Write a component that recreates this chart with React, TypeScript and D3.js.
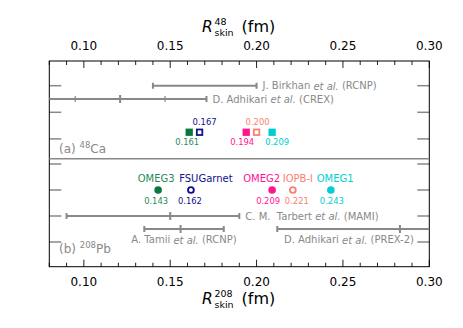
import React from "react";
import * as d3 from "d3";

// model predictions
const models = ["OMEG3", "FSUGarnet", "OMEG2", "IOPB-I", "OMEG1"];
const caSkin = [0.161, 0.167, 0.194, 0.2, 0.209];
const pbSkin = [0.143, 0.162, 0.209, 0.221, 0.243];

// experiments
const caExpNames = ["J. Birkhan", "D. Adhikari"];
const caExpTags = ["(RCNP)", "(CREX)"];
const caExpLo = [0.14, 0.071];
const caExpCenter = [null, 0.121];
const caExpHi = [0.2, 0.171];
const caExpInner = [null, [0.095, 0.147]];

const pbExpNames = ["C. M.\u00a0 Tarbert", "A. Tamii", "D. Adhikari"];
const pbExpTags = ["(MAMI)", "(RCNP)", "(PREX-2)"];
const pbExpLo = [0.09, 0.135, 0.212];
const pbExpCenter = [0.15, 0.156, 0.283];
const pbExpHi = [0.19, 0.181, 0.354];

const xTicks = [0.1, 0.15, 0.2, 0.25, 0.3];

// styling
const colors = ["#08783e", "#10108a", "#ff1493", "#fa8072", "#00ced1"];
const textColors = ["#2a8a55", "#10108a", "#ff1493", "#fa8072", "#00ced1"];
const filled = [true, false, true, false, true];
const nameDx = [-2, 15, -10.5, 5, 4.3];
const pbValDx = [-2, -1, -4, 4, 1];
const caValDx = [-2, 5, -4, 1, 5];
const font = "DejaVu Sans, sans-serif";
const gray = "#888";

const W = 463, H = 328;
const L = 49.3, R = 429.3, T = 61, M = 158.7, B = 266.7;

export default function App() {
  const x = d3.scaleLinear().domain([0.08, 0.3]).range([L, R]);
  const yCa = d3.scaleLinear().domain([0, 1]).range([85.7, 112.3]);
  const yPb = d3.scaleLinear().domain([0, 1]).range([164, 190]);
  const minor = d3.range(0.08, 0.3001, 0.01).map(v => +v.toFixed(2));
  const isMajor = (v: number) => Math.abs(v / 0.05 - Math.round(v / 0.05)) < 1e-6;

  const label = (pre: string, tag: string, px: number, py: number, anchor = "start") => (
    <text x={px} y={py} fontSize={10} fill={gray} textAnchor={anchor} dominantBaseline="central">
      {pre} <tspan fontStyle="italic">et al.</tspan> {tag}
    </text>
  );

  const bar = (lo: number, hi: number, y: number, center: number | null, key: string, inner?: number[] | null) => (
    <g key={key} stroke={gray} strokeWidth={2} clipPath="url(#plot)">
      <line x1={x(lo)} x2={x(hi)} y1={y} y2={y} />
      <line x1={x(lo)} x2={x(lo)} y1={y - 3} y2={y + 3} />
      <line x1={x(hi)} x2={x(hi)} y1={y - 3} y2={y + 3} />
      {center != null && <line x1={x(center)} x2={x(center)} y1={y - 4} y2={y + 4} />}
      {inner && inner.map((v, i) => <line key={i} x1={x(v)} x2={x(v)} y1={y - 3} y2={y + 3} strokeWidth={1.2} />)}
    </g>
  );

  const title = (sup: string, py: number) => (
    <g fill="#000">
      <text x={202} y={py} fontSize={15.5} fontStyle="italic">R</text>
      <text x={214.5} y={py - 7.5} fontSize={9.5}>{sup}</text>
      <text x={214.5} y={py + 3.5} fontSize={9.5}>skin</text>
      <text x={241.5} y={py} fontSize={16}>(fm)</text>
    </g>
  );

  return (
    <svg width={W} height={H} style={{ position: "absolute", left: 0, top: 0, background: "#fff" }} fontFamily={font}>
      <defs>
        <clipPath id="plot"><rect x={L} y={T} width={R - L} height={B - T} /></clipPath>
      </defs>

      {/* x ticks, top and bottom */}
      {minor.map(v => (
        <g key={v} stroke="#222" strokeWidth={1}>
          <line x1={x(v)} x2={x(v)} y1={T} y2={T + (isMajor(v) ? 7 : 4)} />
          <line x1={x(v)} x2={x(v)} y1={B} y2={B - (isMajor(v) ? 7 : 4)} />
        </g>
      ))}
      {xTicks.map(v => (
        <g key={v} fontSize={12} fill="#000" textAnchor="middle">
          <text x={x(v)} y={50}>{v.toFixed(2)}</text>
          <text x={x(v)} y={285.5}>{v.toFixed(2)}</text>
        </g>
      ))}

      {/* y ticks */}
      {[0, 1, 2].map(r => (
        <g key={"ca" + r} stroke={gray} strokeWidth={1.5}>
          <line x1={L} x2={L + 12} y1={yCa(r)} y2={yCa(r)} />
          <line x1={R} x2={R - 12} y1={yCa(r)} y2={yCa(r)} />
        </g>
      ))}
      {[0, 1, 2, 3].map(r => (
        <g key={"pb" + r} stroke={gray} strokeWidth={1.5}>
          <line x1={L} x2={L + 12} y1={yPb(r)} y2={yPb(r)} />
          <line x1={R} x2={R - 12} y1={yPb(r)} y2={yPb(r)} />
        </g>
      ))}

      {/* frame */}
      <rect x={L} y={T} width={R - L} height={B - T} fill="none" stroke="#000" strokeWidth={1} />
      <line x1={L} x2={R} y1={M} y2={M} stroke={gray} strokeWidth={1.6} />

      {/* 48Ca experiments */}
      {caExpNames.map((n, i) => bar(caExpLo[i], caExpHi[i], yCa(i * 0.5), caExpCenter[i], "ca" + i, caExpInner[i] as number[] | null))}
      {caExpNames.map((n, i) => <g key={"cl" + i}>{label(n, caExpTags[i], x(caExpHi[i]) + 6, yCa(i * 0.5))}</g>)}

      {/* 48Ca models */}
      {caSkin.map((v, i) => {
        const s = 7.3;
        const sw = filled[i] ? 0 : 1.8;
        return (
          <g key={"cm" + i}>
            <rect x={x(v) - s / 2 + sw / 2} y={yCa(1.75) - s / 2 + sw / 2} width={s - sw} height={s - sw}
              fill={filled[i] ? colors[i] : "#fff"} stroke={filled[i] ? "none" : colors[i]} strokeWidth={sw} />
            <text x={x(v) + caValDx[i]} y={yCa(filled[i] ? 2.1 : 1.35)} fontSize={8.4} fill={textColors[i]}
              textAnchor="middle" dominantBaseline="central">{v.toFixed(3)}</text>
          </g>
        );
      })}
      <text x={59} y={153} fontSize={12} fill={gray}>(a) <tspan fontSize={8.5} dy={-5}>48</tspan><tspan dy={5}>Ca</tspan></text>

      {/* 208Pb models */}
      {pbSkin.map((v, i) => (
        <g key={"pm" + i}>
          <circle cx={x(v)} cy={yPb(1)} r={filled[i] ? 3.8 : 2.9} fill={filled[i] ? colors[i] : "#fff"}
            stroke={filled[i] ? "none" : colors[i]} strokeWidth={1.9} />
          <text x={x(v) + nameDx[i]} y={yPb(0.54)} fontSize={10} fill={textColors[i]}
            textAnchor="middle" dominantBaseline="central">{models[i]}</text>
          <text x={x(v) + pbValDx[i]} y={yPb(1.42)} fontSize={8.4} fill={textColors[i]}
            textAnchor="middle" dominantBaseline="central">{v.toFixed(3)}</text>
        </g>
      ))}

      {/* 208Pb experiments */}
      {pbExpNames.map((n, i) => bar(pbExpLo[i], pbExpHi[i], yPb(i === 0 ? 2 : 2.5), pbExpCenter[i], "pb" + i))}
      {label(pbExpNames[0], pbExpTags[0], x(pbExpHi[0]) + 6, yPb(2))}
      {label(pbExpNames[1], pbExpTags[1], x((pbExpLo[1] + pbExpHi[1]) / 2), yPb(2.91), "middle")}
      {label(pbExpNames[2], pbExpTags[2], 349, yPb(2.91), "middle")}
      <text x={59} y={253} fontSize={12} fill={gray}>(b) <tspan fontSize={8.5} dy={-5}>208</tspan><tspan dy={5}>Pb</tspan></text>

      {/* axis titles */}
      {title("48", 32)}
      {title("208", 304)}
    </svg>
  );
}
